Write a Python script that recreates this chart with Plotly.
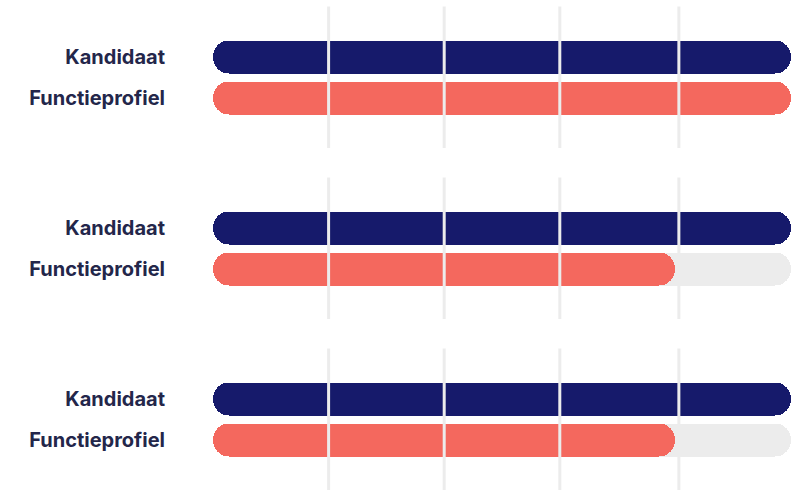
import plotly.graph_objects as go

# ---- data ----
categories = ["Kandidaat", "Functieprofiel"]
kandidaat = [5, 5, 5]
functieprofiel = [5, 4, 4]
scale_max = 5
grid_values = [1, 2, 3, 4.03]

NAVY = "#161a6b"
CORAL = "#f4685e"
TRACK = "#ececec"
GRID = "#ececec"
TEXT = "#23264a"

W, H = 800, 490
group_tops = [6.5, 177.5, 348.5]
group_h = 141.5

fig = go.Figure()
shapes = []
layout_axes = {}

for g in range(3):
    sfx = "" if g == 0 else str(g + 1)
    xa, ya = "x" + sfx, "y" + sfx
    vals = [kandidaat[g], functieprofiel[g]]
    track = [scale_max, scale_max]
    for values, colors in ((track, [TRACK, TRACK]), (vals, [NAVY, CORAL])):
        fig.add_trace(go.Bar(
            y=categories, x=values, base=[0, 0],
            orientation="h", width=0.805,
            marker=dict(color=colors, cornerradius="50%", line=dict(width=0)),
            xaxis=xa, yaxis=ya, hoverinfo="skip", showlegend=False,
        ))
    for gv in grid_values:
        shapes.append(dict(type="line", xref=xa, yref=ya + " domain",
                           x0=gv, x1=gv, y0=0, y1=1, layer="above",
                           line=dict(color=GRID, width=3)))
    top = group_tops[g]
    bot = min(top + group_h, H)
    dom = [1 - bot / H, 1 - top / H]
    layout_axes["xaxis" + sfx] = dict(range=[0, scale_max], showgrid=False, zeroline=False,
                                      showticklabels=False, showline=False, fixedrange=True,
                                      anchor=ya)
    layout_axes["yaxis" + sfx] = dict(domain=dom, type="category", categoryorder="array",
                                      categoryarray=categories, range=[2.22, -1.23],
                                      showgrid=False, zeroline=False, showline=False,
                                      ticks="outside", ticklen=43, tickcolor="rgba(0,0,0,0)",
                                      tickfont=dict(family="Inter", size=20, color=TEXT, weight=700),
                                      fixedrange=True, anchor=xa)

fig.update_layout(
    width=W, height=H, margin=dict(l=213, r=9, t=0, b=0),
    paper_bgcolor="white", plot_bgcolor="white",
    barmode="overlay", bargap=0, shapes=shapes,
    **layout_axes,
)

fig.write_html("out.html", config={"displayModeBar": False})
